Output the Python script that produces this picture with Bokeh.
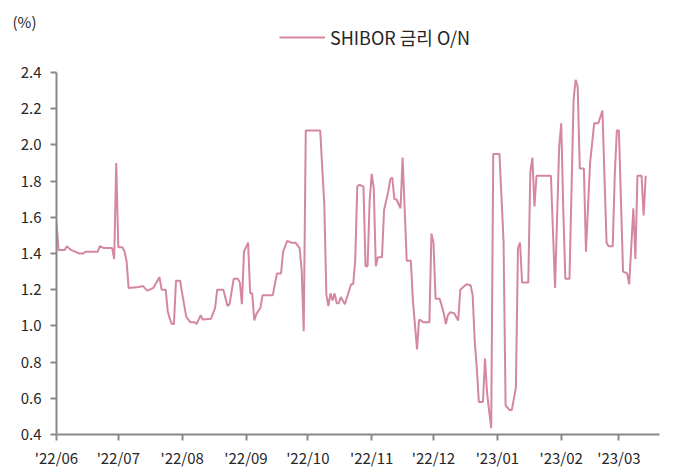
from datetime import datetime, timedelta
import pandas as pd
from bokeh.plotting import figure
from bokeh.models import (Range1d, FixedTicker, DatetimeTickFormatter, NumeralTickFormatter,
                          Legend, LegendItem, LinearAxis, ColumnDataSource)
from bokeh.embed import file_html
from bokeh.resources import INLINE

# ---- data ----
dates = [
    "2022-06-01", "2022-06-02", "2022-06-05", "2022-06-06", "2022-06-08", "2022-06-10", "2022-06-12",
    "2022-06-14", "2022-06-15", "2022-06-21", "2022-06-22", "2022-06-24", "2022-06-28", "2022-06-29",
    "2022-06-30", "2022-07-01", "2022-07-03", "2022-07-04", "2022-07-05", "2022-07-06", "2022-07-11",
    "2022-07-13", "2022-07-15", "2022-07-17", "2022-07-18", "2022-07-19", "2022-07-20", "2022-07-21",
    "2022-07-22", "2022-07-24", "2022-07-25", "2022-07-26", "2022-07-27", "2022-07-28", "2022-07-29",
    "2022-07-31", "2022-08-01", "2022-08-03", "2022-08-05", "2022-08-07", "2022-08-08", "2022-08-10",
    "2022-08-11", "2022-08-15", "2022-08-17", "2022-08-18", "2022-08-21", "2022-08-23", "2022-08-24",
    "2022-08-26", "2022-08-28", "2022-08-29", "2022-08-30", "2022-08-31", "2022-09-02", "2022-09-03",
    "2022-09-04", "2022-09-05", "2022-09-06", "2022-09-08", "2022-09-09", "2022-09-14", "2022-09-16",
    "2022-09-18", "2022-09-19", "2022-09-21", "2022-09-23", "2022-09-25", "2022-09-27", "2022-09-28",
    "2022-09-29", "2022-09-30", "2022-10-07", "2022-10-09", "2022-10-10", "2022-10-11", "2022-10-12",
    "2022-10-13", "2022-10-14", "2022-10-15", "2022-10-16", "2022-10-17", "2022-10-19", "2022-10-22",
    "2022-10-23", "2022-10-24", "2022-10-25", "2022-10-26", "2022-10-28", "2022-10-29", "2022-10-30",
    "2022-10-31", "2022-11-01", "2022-11-02", "2022-11-03", "2022-11-04", "2022-11-06", "2022-11-07",
    "2022-11-09", "2022-11-10", "2022-11-11", "2022-11-12", "2022-11-13", "2022-11-15", "2022-11-16",
    "2022-11-18", "2022-11-20", "2022-11-21", "2022-11-23", "2022-11-24", "2022-11-25", "2022-11-26",
    "2022-11-28", "2022-11-29", "2022-11-30", "2022-12-01", "2022-12-02", "2022-12-04", "2022-12-06",
    "2022-12-07", "2022-12-08", "2022-12-09", "2022-12-11", "2022-12-13", "2022-12-14", "2022-12-16",
    "2022-12-17", "2022-12-19", "2022-12-20", "2022-12-21", "2022-12-22", "2022-12-23", "2022-12-25",
    "2022-12-26", "2022-12-27", "2022-12-28", "2022-12-29", "2022-12-30", "2023-01-02", "2023-01-04",
    "2023-01-05", "2023-01-07", "2023-01-08", "2023-01-10", "2023-01-11", "2023-01-12", "2023-01-13",
    "2023-01-16", "2023-01-17", "2023-01-18", "2023-01-19", "2023-01-20", "2023-01-27", "2023-01-29",
    "2023-01-31", "2023-02-01", "2023-02-02", "2023-02-03", "2023-02-05", "2023-02-07", "2023-02-08",
    "2023-02-09", "2023-02-10", "2023-02-12", "2023-02-13", "2023-02-15", "2023-02-17", "2023-02-19",
    "2023-02-21", "2023-02-23", "2023-02-24", "2023-02-26", "2023-02-27", "2023-02-28", "2023-03-01",
    "2023-03-03", "2023-03-05", "2023-03-06", "2023-03-08", "2023-03-09", "2023-03-10", "2023-03-12",
    "2023-03-13", "2023-03-14",
]
shibor_on = [
    1.57, 1.42, 1.42, 1.44, 1.42, 1.41, 1.40,
    1.40, 1.41, 1.41, 1.44, 1.43, 1.43, 1.37,
    1.90, 1.435, 1.435, 1.41, 1.36, 1.21, 1.215,
    1.22, 1.195, 1.205, 1.21, 1.23, 1.25, 1.27,
    1.20, 1.20, 1.08, 1.04, 1.01, 1.01, 1.25,
    1.25, 1.18, 1.05, 1.02, 1.02, 1.01, 1.06,
    1.035, 1.04, 1.10, 1.20, 1.20, 1.11, 1.12,
    1.26, 1.26, 1.24, 1.12, 1.41, 1.46, 1.18,
    1.18, 1.03, 1.065, 1.10, 1.17, 1.17, 1.29,
    1.29, 1.41, 1.47, 1.46, 1.46, 1.43, 1.31,
    0.97, 2.08, 2.08, 1.67, 1.17, 1.11, 1.18,
    1.14, 1.18, 1.125, 1.125, 1.16, 1.12, 1.23,
    1.23, 1.36, 1.77, 1.78, 1.77, 1.33, 1.33,
    1.69, 1.84, 1.76, 1.33, 1.38, 1.38, 1.64,
    1.74, 1.81, 1.82, 1.70, 1.70, 1.65, 1.93,
    1.36, 1.36, 1.14, 0.87, 1.035, 1.03, 1.02,
    1.02, 1.02, 1.51, 1.46, 1.15, 1.15, 1.07,
    1.01, 1.06, 1.075, 1.07, 1.03, 1.20, 1.22,
    1.23, 1.225, 1.17, 0.92, 0.77, 0.58, 0.58,
    0.82, 0.63, 0.53, 0.435, 1.95, 1.95, 1.47,
    0.56, 0.535, 0.535, 0.66, 1.43, 1.46, 1.24,
    1.24, 1.85, 1.93, 1.66, 1.83, 1.83, 1.21,
    1.99, 2.12, 1.64, 1.26, 1.26, 2.25, 2.36,
    2.32, 1.87, 1.87, 1.41, 1.90, 2.12, 2.12,
    2.19, 1.46, 1.44, 1.44, 1.84, 2.08, 2.08,
    1.30, 1.29, 1.23, 1.65, 1.37, 1.83, 1.83,
    1.61, 1.83,
]
tick_months = ["2022-06-01", "2022-07-01", "2022-08-01", "2022-09-01", "2022-10-01",
               "2022-11-01", "2022-12-01", "2023-01-01", "2023-02-01", "2023-03-01"]
y_ticks = [0.4, 0.6, 0.8, 1.0, 1.2, 1.4, 1.6, 1.8, 2.0, 2.2, 2.4]
series_name = "SHIBOR 금리 O/N"
unit_label = "(%)"

# ---- style / layout ----
FONT = "Noto Sans CJK KR"
LINE_COLOR = "#d4879e"
AXIS_COLOR = "#8a8a8a"
TEXT_COLOR = "#262626"
Y_MIN, Y_MAX = 0.4, 2.4
Y_TOP = 2.798        # frame extends above the axis so the legend fits inside it
UNIT_LEVEL = 2.68    # vertical level of the "(%)" caption

src = ColumnDataSource(data=dict(x=pd.to_datetime(dates), y=shibor_on))

start = datetime(2022, 6, 1)
p = figure(frame_width=603, frame_height=434, x_axis_type="datetime", y_axis_location=None,
           output_backend="svg", toolbar_location=None,
           x_range=Range1d(start, start + timedelta(days=292.7)),
           y_range=Range1d(Y_MIN, Y_TOP),
           min_border_left=56, min_border_right=5, min_border_top=0, min_border_bottom=10)
p.outline_line_color = None
p.grid.visible = False
p.background_fill_color = "white"

r = p.line("x", "y", source=src, line_color=LINE_COLOR, line_width=2)

# x axis
tick_ms = [pd.Timestamp(t).value / 1e6 for t in tick_months]
xa = p.xaxis[0]
xa.ticker = FixedTicker(ticks=tick_ms)
fmt = "'%y/%m"
xa.formatter = DatetimeTickFormatter(days=fmt, months=fmt, years=fmt, hours=fmt,
                                     minutes=fmt, seconds=fmt, milliseconds=fmt,
                                     microseconds=fmt, hourmin=fmt, minsec=fmt)
xa.axis_line_color = AXIS_COLOR
xa.axis_line_width = 2
xa.major_tick_line_color = AXIS_COLOR
xa.major_tick_line_width = 2
xa.minor_tick_line_color = None
xa.major_tick_in = 0
xa.major_tick_out = 6
xa.major_label_standoff = 6
xa.major_label_text_font = FONT
xa.major_label_text_font_size = "15px"
xa.major_label_text_color = TEXT_COLOR

# y axis: line, tick marks and labels, bounded to 0.4–2.4
ya = LinearAxis(bounds=(Y_MIN, Y_MAX), ticker=FixedTicker(ticks=y_ticks),
                formatter=NumeralTickFormatter(format="0.0"),
                axis_line_color=AXIS_COLOR, axis_line_width=2,
                major_tick_line_color=AXIS_COLOR, major_tick_line_width=2,
                minor_tick_line_color=None, major_tick_in=0, major_tick_out=6,
                major_label_standoff=9, major_label_text_font=FONT,
                major_label_text_font_size="15px", major_label_text_color=TEXT_COLOR)
p.add_layout(ya, "left")
# caption "(%)" carried by a bare outer axis
ya_unit = LinearAxis(ticker=FixedTicker(ticks=[UNIT_LEVEL]),
                     major_label_overrides={UNIT_LEVEL: unit_label},
                     axis_line_color=None, major_tick_line_color=None,
                     minor_tick_line_color=None, major_tick_in=0, major_tick_out=0,
                     major_label_standoff=-19, major_label_text_font=FONT,
                     major_label_text_font_size="15px", major_label_text_color=TEXT_COLOR)
p.add_layout(ya_unit, "left")

legend = Legend(items=[LegendItem(label=series_name, renderers=[r])],
                location=(223, 384), orientation="horizontal",
                label_text_font=FONT, label_text_font_size="18px", label_text_color=TEXT_COLOR,
                glyph_width=46, glyph_height=20, label_height=20, label_standoff=5,
                padding=0, margin=0, border_line_color=None, background_fill_alpha=0)
p.add_layout(legend)

open("out.html", "w").write(file_html(p, INLINE))
